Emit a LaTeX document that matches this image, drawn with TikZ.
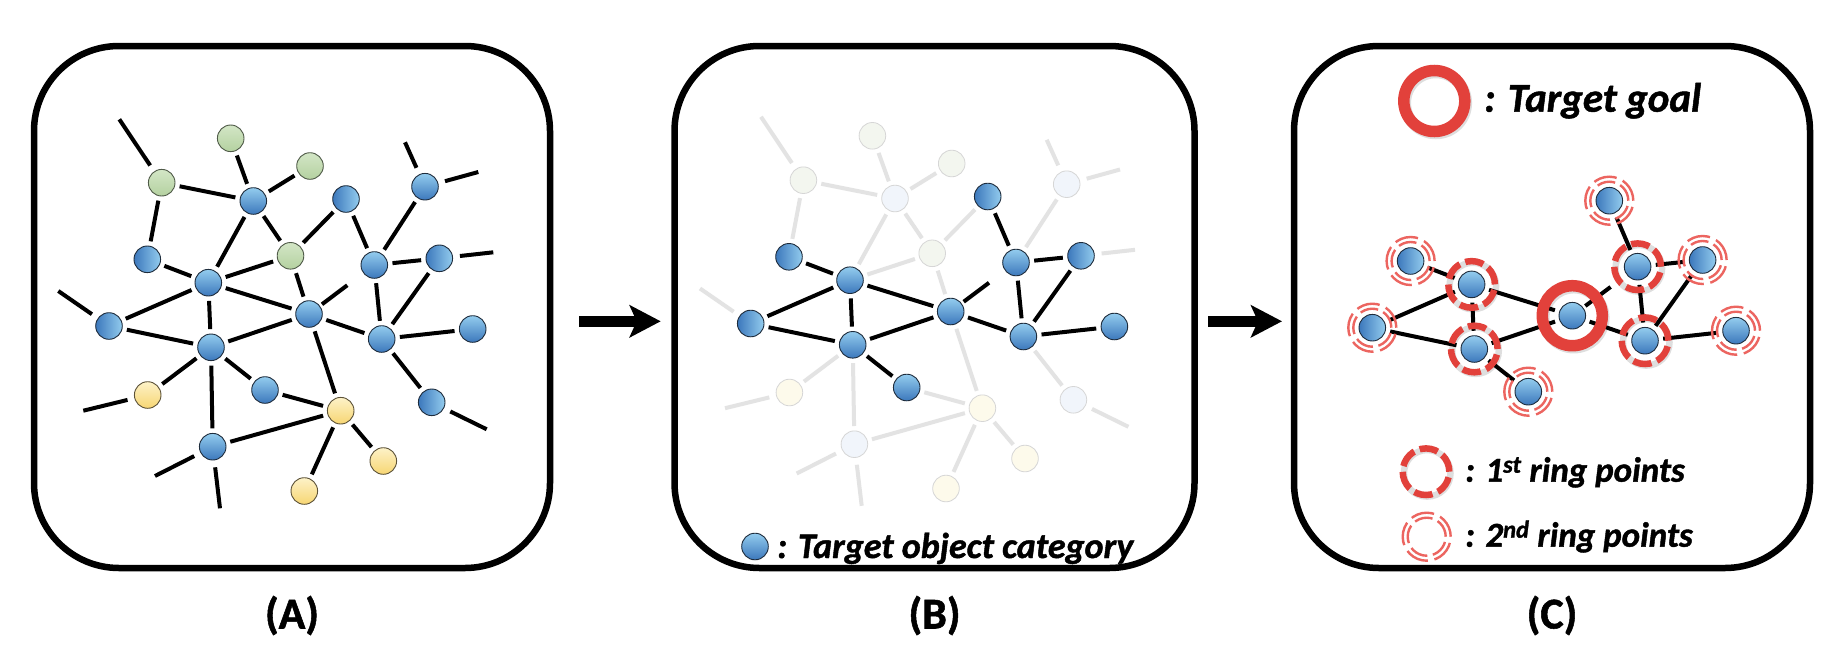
\documentclass[tikz,border=0pt]{standalone}
\usepackage{fontspec}
\setmainfont{Carlito}[BoldFeatures={FakeBold=1.2},BoldItalicFeatures={FakeBold=1.2}]
\usetikzlibrary{arrows.meta}
\definecolor{blueL}{HTML}{93CCEE}
\definecolor{blueD}{HTML}{3C78BC}
\definecolor{ndline}{HTML}{1E2C3C}
\definecolor{greenL}{HTML}{D3E6C6}
\definecolor{greenD}{HTML}{B4D1A0}
\definecolor{grline}{HTML}{4F5A48}
\definecolor{yelL}{HTML}{FDF2C8}
\definecolor{yelD}{HTML}{F7D673}
\definecolor{yeline}{HTML}{5C5238}
\definecolor{fadeG}{HTML}{F3F6EF}
\definecolor{fadeB}{HTML}{F1F5FB}
\definecolor{fadeY}{HTML}{FDFAEB}
\definecolor{fadeO}{HTML}{D6D6D6}
\definecolor{fadeline}{HTML}{E3E3E3}
\definecolor{ringred}{HTML}{E2413B}
\definecolor{ringpink}{HTML}{EC6560}
\newcommand\labfont{\fontsize{44pt}{50pt}\selectfont\bfseries}
\newcommand\legfont[1]{\fontsize{#1}{#1}\selectfont\bfseries\itshape}
% node lists (panel A frame, pixels)
\def\Gnodes{G1/230.7/138.3,G2/310/166,G3/161.7/182.7,G4/290.5/255.8}
\def\Ynodes{Y1/147.7/395,Y2/340.7/410.7,Y3/383.3/461,Y4/304.3/491}
\def\BVact{B5/208.3/282.7,B6/374.3/265,B9/309/314,B10/211/347.3,B11/381.7/339,B12/472.7/329,B13/265/390}
\def\BHact{B2/346/199,B4/147.3/259.3,B7/439.3/258.3,B8/109/326}
\def\BVpas{B1/253.3/201,B3/425/186.7,B15/212.7/446.7}
\def\BHpas{B14/431.7/402.3}
\def\ActEdges{B4/B5,B8/B5,B8/B10,B5/B10,B5/B9,B10/B9,B10/B13,B2/B6,B6/B7,B6/B11,B7/B11,B11/B12,B9/B11}
\def\PasEdges{G3/B1,G3/B4,G1/B1,G2/B1,B1/B5,B1/G4,G4/B2,B3/B6,G4/B5,G4/B9,B9/Y2,B11/B14,B10/Y1,B10/B15,B13/Y2,B15/Y2,Y2/Y3,Y2/Y4}
\def\Frees{G3/119.3/119.3/1,B3/405/142.3/2,B3/478.3/172/3,B7/493.3/252.3/4,B8/58.3/291/5,Y1/83.3/410.7/6,B15/155/476/7,B15/220/508.3/8,B14/486.7/429.3/9}
\begin{document}
\begin{tikzpicture}[x=1pt,y=-1pt,
  lnk/.style={line width=4pt, shorten <=4.5pt, shorten >=4.5pt},
  flnk/.style={lnk, draw=fadeline},
  nd/.style={circle, inner sep=0pt, minimum size=26.6pt, draw=ndline, line width=0.9pt},
  bV/.style={nd, top color=blueL, bottom color=blueD},
  bH/.style={nd, left color=blueD, right color=blueL},
  gn/.style={nd, top color=greenL, bottom color=greenD, draw=grline},
  yn/.style={nd, top color=yelL, bottom color=yelD, draw=yeline},
  fg/.style={nd, fill=fadeG, draw=fadeO, line width=0.8pt},
  fb/.style={nd, fill=fadeB, draw=fadeO, line width=0.8pt},
  fy/.style={nd, fill=fadeY, draw=fadeO, line width=0.8pt},
  panel/.style={draw=black, line width=6.5pt, rounded corners=85pt, minimum height=522pt, inner sep=0pt},
  bigarrow/.style={line width=10.7pt, -{Stealth[length=31pt,width=32pt,inset=7pt]}},
  ring0/.style={draw=ringred, line width=11.5pt},
  ring1/.style={draw=ringred, line width=6.5pt, dash pattern=on 18.6pt off 5.8pt},
  ring2a/.style={draw=ringpink, line width=2.4pt, dash pattern=on 23.5pt off 6.7pt},
  ring2b/.style={draw=ringpink, line width=2.4pt, dash pattern=on 18.3pt off 5.6pt},
  shad/.style={draw=black, draw opacity=0.13},
  lab/.style={anchor=base, inner sep=0pt, font=\labfont},
  legtxt/.style={anchor=base west, inner sep=0pt}
]
\useasboundingbox (0,0) rectangle (1841,667);
\fill[white] (0,0) rectangle (1841,667);

% panel frames
\node[panel, minimum width=516pt] (boxA) at (292,307) {};
\node[panel, minimum width=520pt] (boxB) at (934.5,307) {};
\node[panel, minimum width=516pt] (boxC) at (1552,307) {};

% ---------- panel A ----------
\begin{scope}
  \foreach \n/\x/\y in \Gnodes {\node[gn] (a\n) at (\x,\y) {};}
  \foreach \n/\x/\y in \Ynodes {\node[yn] (a\n) at (\x,\y) {};}
  \foreach \n/\x/\y in \BVact {\node[bV] (a\n) at (\x,\y) {};}
  \foreach \n/\x/\y in \BVpas {\node[bV] (a\n) at (\x,\y) {};}
  \foreach \n/\x/\y in \BHact {\node[bH] (a\n) at (\x,\y) {};}
  \foreach \n/\x/\y in \BHpas {\node[bH] (a\n) at (\x,\y) {};}
  \foreach \u/\v in \ActEdges {\draw[lnk] (a\u) -- (a\v);}
  \foreach \u/\v in \PasEdges {\draw[lnk] (a\u) -- (a\v);}
  \draw[lnk, shorten <=2.5pt, shorten >=20pt] (aB9) -- (aB6);
  \foreach \n/\x/\y/\k in \Frees {\coordinate (af\k) at (\x,\y); \draw[lnk, shorten <=7pt, shorten >=0pt] (a\n) -- (af\k);}
\end{scope}

% ---------- panel B ----------
\begin{scope}[shift={(641.7,-2.5)}]
  \foreach \n/\x/\y in \Gnodes {\node[fg] (b\n) at (\x,\y) {};}
  \foreach \n/\x/\y in \Ynodes {\node[fy] (b\n) at (\x,\y) {};}
  \foreach \n/\x/\y in \BVpas {\node[fb] (b\n) at (\x,\y) {};}
  \foreach \n/\x/\y in \BHpas {\node[fb] (b\n) at (\x,\y) {};}
  \foreach \n/\x/\y in \BVact {\node[bV] (b\n) at (\x,\y) {};}
  \foreach \n/\x/\y in \BHact {\node[bH] (b\n) at (\x,\y) {};}
  \foreach \u/\v in \PasEdges {\draw[flnk] (b\u) -- (b\v);}
  \foreach \n/\x/\y/\k in \Frees {\coordinate (bf\k) at (\x,\y); \draw[flnk, shorten <=7pt, shorten >=0pt] (b\n) -- (bf\k);}
  \foreach \u/\v in \ActEdges {\draw[lnk] (b\u) -- (b\v);}
  \draw[lnk, shorten <=2.5pt, shorten >=20pt] (bB9) -- (bB6);
\end{scope}
\node[bV] (legB) at (755,546.5) {};
\node[legtxt] (legBt) at (777,558) {\legfont{36pt}: Target object category};

% ---------- panel C ----------
\begin{scope}[shift={(1263.3,1.7)}]
  \foreach \n/\x/\y in \BVact {\node[bV] (c\n) at (\x,\y) {};}
  \foreach \n/\x/\y in \BHact {\node[bH] (c\n) at (\x,\y) {};}
  \foreach \u/\v in \ActEdges {\draw[lnk] (c\u) -- (c\v);}
  \draw[lnk, shorten <=2.5pt, shorten >=20pt] (cB9) -- (cB6);
\end{scope}
% rings
\draw[shad, line width=11.5pt] ([xshift=1.5pt,yshift=-2pt]cB9.center) circle[radius=30pt];
\draw[ring0] (cB9.center) circle[radius=30pt];
\foreach \n in {B5,B10,B6,B11} {
  \draw[shad, line width=6.5pt] ([xshift=1.2pt,yshift=-1.6pt]c\n.center) circle[radius=23.3pt];
  \draw[ring1] (c\n.center) circle[radius=23.3pt];}
\foreach \n in {B4,B8,B13,B2,B7,B12} {
  \draw[ring2a] (c\n.center) circle[radius=24pt];
  \draw[ring2b] (c\n.center) circle[radius=19pt];}

% legend C
\coordinate (lg0) at (1434.3,101);
\draw[shad, line width=11.5pt] ([xshift=1.5pt,yshift=-2pt]lg0) circle[radius=30.5pt];
\draw[ring0] (lg0) circle[radius=30.5pt];
\node[legtxt] (lg0t) at (1484,111.7) {\legfont{41pt}: Target goal};
\coordinate (lg1) at (1426,471.7);
\draw[shad, line width=6.5pt] ([xshift=1.2pt,yshift=-1.6pt]lg1) circle[radius=23.3pt];
\draw[ring1] (lg1) circle[radius=23.3pt];
\node[legtxt] (lg1t) at (1465,481.7) {\legfont{35pt}: 1\textsuperscript{st} ring points};
\coordinate (lg2) at (1426.7,536.7);
\draw[ring2a] (lg2) circle[radius=24pt];
\draw[ring2b] (lg2) circle[radius=19pt];
\node[legtxt] (lg2t) at (1465,546.7) {\legfont{35pt}: 2\textsuperscript{nd} ring points};

% arrows between panels
\coordinate (ar1s) at (579.3,321.3);
\coordinate (ar1e) at (660.7,321.3);
\coordinate (ar2s) at (1208,321.3);
\coordinate (ar2e) at (1282,321.3);
\draw[bigarrow] (ar1s) -- (ar1e);
\draw[bigarrow] (ar2s) -- (ar2e);

% labels
\node[lab] (labA) at (292,628.5) {(A)};
\node[lab] (labB) at (934.5,628.5) {(B)};
\node[lab] (labC) at (1552,628.5) {(C)};
\end{tikzpicture}
\end{document}
